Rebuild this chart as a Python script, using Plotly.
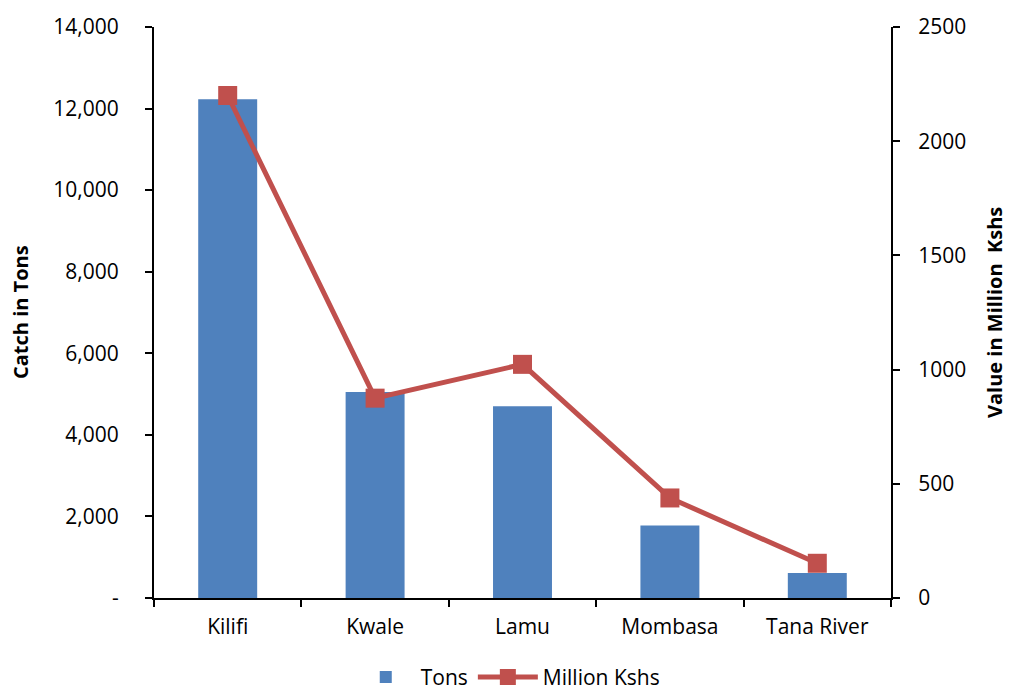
import plotly.graph_objects as go

categories = ["Kilifi", "Kwale", "Lamu", "Mombasa", "Tana River"]
tons = [12230, 5050, 4700, 1780, 610]
million_kshs = [2200, 875, 1023, 438, 152]

left_ticks = [0, 2000, 4000, 6000, 8000, 10000, 12000, 14000]
left_ticktext = ["-", "2,000", "4,000", "6,000", "8,000", "10,000", "12,000", "14,000"]
right_ticks = [0, 500, 1000, 1500, 2000, 2500]

BLUE = "#4F81BD"
RED = "#C0504D"
FONT = "Open Sans"

L, R, T, B = 154, 118, 27, 102
W, H = 1009, 700

fig = go.Figure()
fig.add_trace(go.Bar(x=categories, y=tons, name="Tons", marker=dict(color=BLUE, line=dict(width=0)),
                     yaxis="y"))
fig.add_trace(go.Scatter(x=categories, y=million_kshs, name="Million Kshs", mode="lines+markers",
                         line=dict(color=RED, width=5),
                         marker=dict(symbol="square", size=19, color=RED),
                         yaxis="y2"))

axis_common = dict(showline=True, linecolor="black", linewidth=2, ticks="outside", ticklen=7,
                   tickwidth=2, tickcolor="black", showgrid=False, zeroline=False)

fig.update_layout(
    width=W, height=H,
    margin=dict(l=L, r=R, t=T, b=B, autoexpand=False),
    plot_bgcolor="white", paper_bgcolor="white",
    font=dict(family=FONT, size=21, color="black"),
    bargap=0.6,
    showlegend=True,
    legend=dict(orientation="h", x=0.48, xanchor="center", y=-(H - B - 1 - H + 2) / 571 * 0 - 0.175,
                yanchor="bottom", font=dict(family=FONT, size=21), tracegroupgap=0,
                itemwidth=60),
    xaxis=dict(**axis_common, tickson="boundaries", ticklabelstandoff=9,
               tickfont=dict(family=FONT, size=21)),
    yaxis=dict(**axis_common, range=[0, 14000], tickvals=left_ticks, ticktext=left_ticktext,
               ticklabelstandoff=22, tickfont=dict(family=FONT, size=21)),
    yaxis2=dict(**axis_common, range=[0, 2500], tickvals=right_ticks, overlaying="y", side="right",
                ticklabelstandoff=14, tickfont=dict(family=FONT, size=21)),
)

pw = W - L - R
ph = H - T - B
def ann(text, px, py):
    return dict(text=text, textangle=-90, x=(px - L) / pw, y=(H - B - py) / ph,
                xref="paper", yref="paper", xanchor="center", yanchor="middle", showarrow=False,
                font=dict(family=FONT, size=20))

fig.update_layout(annotations=[
    ann("<b>Catch in Tons</b>", 20, 312),
    ann("<b>Value in Million  Kshs</b>", 994, 312),
])

fig.write_html("out.html")
